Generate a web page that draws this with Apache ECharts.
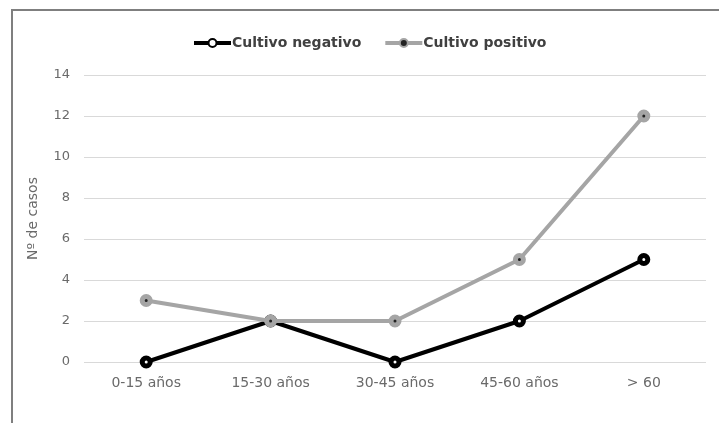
<!DOCTYPE html>
<html>
<head>
<meta charset="utf-8">
<script src="https://cdn.jsdelivr.net/npm/echarts@6/dist/echarts.min.js"></script>
<style>
  html, body { margin: 0; padding: 0; background: #fff; }
  #chart { width: 719px; height: 423px; }
</style>
</head>
<body>
<div id="chart"></div>
<script>
// Age groups and number of cases per culture result
const categories = ['0-15 años', '15-30 años', '30-45 años', '45-60 años', '> 60'];
const cultivoNegativo = [0, 2, 0, 2, 5];
const cultivoPositivo = [3, 2, 2, 5, 12];
const yTicks = { min: 0, max: 14, interval: 2 };

const chart = echarts.init(document.getElementById('chart'));
const font = '"DejaVu Sans", sans-serif';
const labelColor = '#6a6a6a';

chart.setOption({
  animation: false,
  textStyle: { fontFamily: font },
  legend: {
    top: 31,
    left: 187,
    itemGap: 22,
    itemWidth: 37,
    itemHeight: 10,
    textStyle: { fontSize: 14, fontWeight: 'bold', color: '#404040', fontFamily: font, padding: [0, 0, 0, -4] },
    lineStyle: { width: 4 },
    data: ['Cultivo negativo', 'Cultivo positivo']
  },
  grid: { left: 84, right: 13, top: 75, bottom: 61 },
  xAxis: {
    type: 'category',
    data: categories,
    boundaryGap: true,
    axisLine: { show: false },
    axisTick: { show: false },
    axisLabel: { color: labelColor, fontSize: 14, margin: 14 }
  },
  yAxis: {
    type: 'value',
    min: yTicks.min,
    max: yTicks.max,
    interval: yTicks.interval,
    name: 'Nº de casos',
    nameLocation: 'middle',
    nameGap: 44,
    nameTextStyle: { color: labelColor, fontSize: 14 },
    axisLine: { show: false },
    axisTick: { show: false },
    axisLabel: { color: labelColor, fontSize: 13, margin: 14 },
    splitLine: { lineStyle: { color: '#d9d9d9', width: 1 } }
  },
  graphic: [
    { type: 'line', shape: { x1: 11, y1: 10, x2: 719, y2: 10 }, style: { stroke: '#7f7f7f', lineWidth: 2 } },
    { type: 'line', shape: { x1: 12, y1: 10, x2: 12, y2: 423 }, style: { stroke: '#7f7f7f', lineWidth: 2 } }
  ],
  series: [
    {
      name: 'Cultivo negativo',
      type: 'line',
      data: cultivoNegativo,
      symbol: 'circle',
      symbolSize: 8,
      lineStyle: { color: '#000000', width: 4 },
      itemStyle: { color: '#ffffff', borderColor: '#000000', borderWidth: 5 },
      z: 3
    },
    {
      name: 'Cultivo positivo',
      type: 'line',
      data: cultivoPositivo,
      symbol: 'circle',
      symbolSize: 8,
      lineStyle: { color: '#a5a5a5', width: 4 },
      itemStyle: { color: '#222222', borderColor: '#a5a5a5', borderWidth: 5 },
      z: 4
    }
  ]
});
</script>
</body>
</html>
